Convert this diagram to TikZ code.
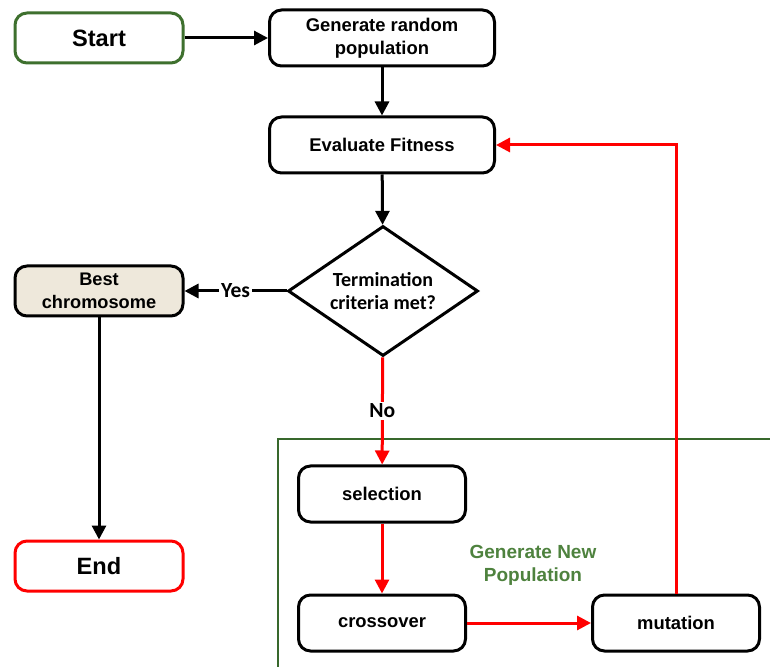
\documentclass[tikz,border=0pt]{standalone}
\usepackage{fontspec}
\setmainfont{Liberation Sans}
\newfontfamily\calfont{Carlito}
\usetikzlibrary{arrows.meta,shapes.geometric}
\definecolor{startgreen}{RGB}{62,112,46}
\definecolor{framegreen}{RGB}{56,104,44}
\definecolor{labelgreen}{RGB}{78,130,62}
\definecolor{beige}{RGB}{238,232,219}
\tikzset{every node/.append style={transform shape=false}}

\begin{document}
\begin{tikzpicture}[x=0.5pt,y=-0.5pt,
  box/.style={draw, rounded corners=6pt, line width=1.5pt, align=center,
    inner sep=1pt, fill=white},
  term/.style={box, minimum width=84pt, minimum height=25pt,
    font=\bfseries\fontsize{11.8}{14}\selectfont},
  proc/.style={box, minimum width=112.5pt, minimum height=28pt,
    font=\bfseries\fontsize{9.2}{11.5}\selectfont},
  task/.style={box, minimum width=83.5pt, minimum height=28pt,
    font=\bfseries\fontsize{9.2}{11.5}\selectfont},
  decision/.style={draw, diamond, line width=1.5pt, align=center, inner sep=0pt,
    shape aspect=1.6, minimum width=95pt, minimum height=65pt, fill=white,
    font=\calfont\bfseries\fontsize{10}{11.5}\selectfont},
  lbl/.style={fill=white, text=black, inner sep=1pt,
    font=\calfont\bfseries\fontsize{10.8}{12}\selectfont},
  arr/.style={line width=1.5pt, -{Triangle[length=7pt,width=7pt]}},
  rarr/.style={arr, red}]
  \useasboundingbox (0,0) rectangle (770,667);

  % frame of the inner loop
  \draw[framegreen, line width=1.1pt] (790,439) -- (278,439) -- (278,690);

  \node[term, draw=startgreen] (start) at (99,38) {Start};
  \node[proc] (gen) at (382,38) {Generate random\\population};
  \node[proc] (eval) at (382,145) {Evaluate Fitness};
  \node[decision] (crit) at (383,291) {Termination\\criteria met?};
  \node[term, fill=beige, font=\bfseries\fontsize{9.1}{11.5}\selectfont] (best) at (99,291) {Best\\chromosome};
  \node[term, draw=red] (end) at (99,566) {End};

  \node[task] (sel) at (382,494) {selection};
  \node[task] (cross) at (382,623) {crossover};
  \node[task] (mut) at (676,623) {mutation};
  \node[text=labelgreen, align=center, font=\bfseries\fontsize{9.5}{11.5}\selectfont] (newpop) at (533,565) {Generate New\\Population};

  \draw[arr] (start) -- (gen);
  \draw[arr] (gen) -- (eval);
  \draw[arr] (eval) -- (crit);
  \draw[arr] (crit) -- node[lbl] {Yes} (best);
  \draw[arr] (best) -- (end);

  \draw[rarr] (crit) -- node[lbl] {No} (sel);
  \draw[rarr] (sel) -- (cross);
  \draw[rarr] (cross) -- (mut);
  \draw[rarr] (mut) |- (eval);
\end{tikzpicture}
\end{document}
